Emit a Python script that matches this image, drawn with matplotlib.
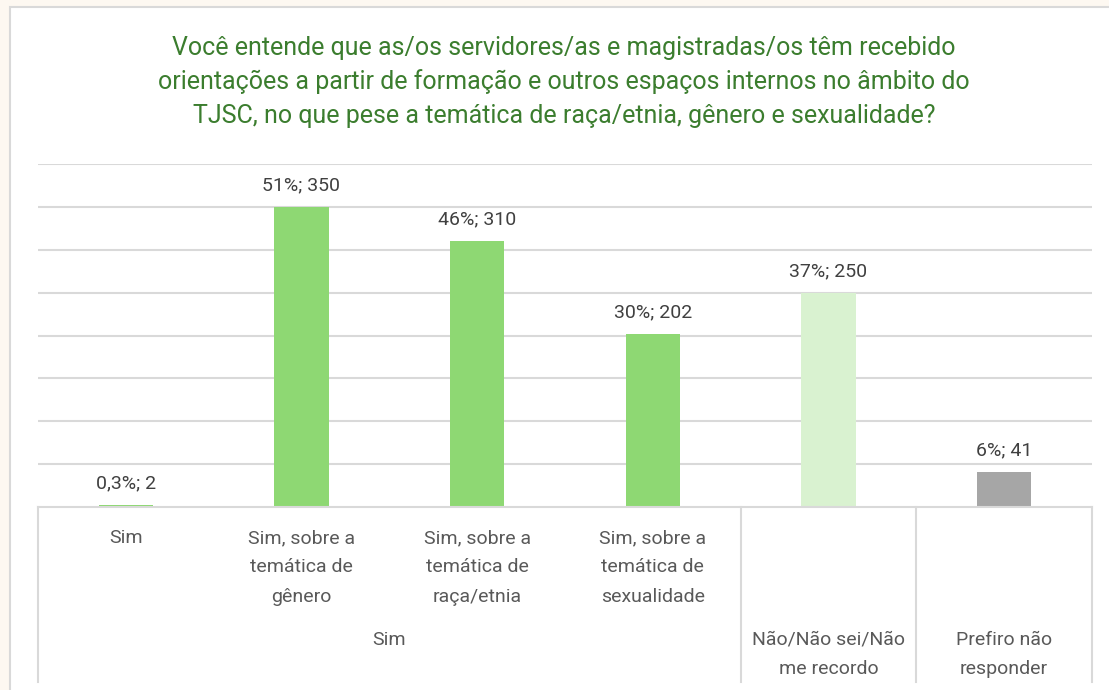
import matplotlib.pyplot as plt
from matplotlib import transforms
from matplotlib.patches import Rectangle

# data
categories = ['Sim', 'Sim, sobre a\ntemática de\ngênero', 'Sim, sobre a\ntemática de\nraça/etnia',
              'Sim, sobre a\ntemática de\nsexualidade', 'Não/Não sei/Não\nme recordo', 'Prefiro não\nresponder']
values = [2, 350, 310, 202, 250, 41]
pct_labels = ['0,3%', '51%', '46%', '30%', '37%', '6%']
bar_colors = ['#8ED873', '#8ED873', '#8ED873', '#8ED873', '#D9F2D0', '#A6A6A6']
group_label = 'Sim'
title_lines = ['Você entende que as/os servidores/as e magistradas/os têm recebido',
               'orientações a partir de formação e outros espaços internos no âmbito do',
               'TJSC, no que pese a temática de raça/etnia, gênero e sexualidade?']

W, H = 1109, 690
fig = plt.figure(figsize=(W / 100, H / 100), dpi=100, facecolor='#FDF8F1')

def fy(y):
    return 1 - y / H

# white chart area with light border (cut off at right and bottom)
fig.patches.append(Rectangle((10 / W, -0.02), 1.02 - 10 / W, fy(7) + 0.02, transform=fig.transFigure,
                             facecolor='white', edgecolor='#D9D9D9', linewidth=1.5, zorder=-5))

body_font = ['Roboto', 'DejaVu Sans']

for i, line in enumerate(title_lines):
    fig.text(564 / W, fy(48.5 + i * 33.5), line, ha='center', va='center', fontsize=18,
             color='#3B7D2E', family=body_font)

ax = fig.add_axes([38 / W, fy(507), (1092 - 38) / W, (507 - 164) / H])
ax.set_facecolor('none')
x = list(range(len(values)))
ax.bar(x, values, width=0.31, color=bar_colors, zorder=2)
ax.set_xlim(-0.5, len(values) - 0.5)
ax.set_ylim(0, 400)
ax.set_yticks(range(50, 401, 50))
ax.yaxis.grid(True, color='#D9D9D9', linewidth=1.5, zorder=0)
ax.tick_params(left=False, labelleft=False, bottom=False, labelbottom=False)
for s in ['left', 'right', 'top']:
    ax.spines[s].set_visible(False)
ax.spines['bottom'].set_color('#D9D9D9')
ax.spines['bottom'].set_linewidth(1.5)

for xi, v, p in zip(x, values, pct_labels):
    ax.annotate(f'{p}; {v}', (xi, v), xytext=(0, 9), textcoords='offset points',
                ha='center', va='bottom', fontsize=14, color='#404040', family=body_font)

# multi-level category axis
tr = transforms.blended_transform_factory(ax.transData, fig.transFigure)
for xb in [-0.5, 3.5, 4.5, 5.5]:
    ax.plot([xb, xb], [fy(507), fy(682)], transform=tr, color='#D9D9D9', linewidth=1.5, clip_on=False)

for xi, lab in zip(x, categories):
    lines = lab.split('\n')
    y0 = 538 if xi < 4 else 640
    for j, ln in enumerate(lines):
        ax.text(xi, fy(y0 + j * 29.5), ln, transform=tr, ha='center', va='center', fontsize=14,
                color='#595959', family=body_font)
ax.text(1.5, fy(640), group_label, transform=tr, ha='center', va='center', fontsize=14,
        color='#595959', family=body_font)

fig.savefig('out.png', dpi=100, facecolor=fig.get_facecolor())
